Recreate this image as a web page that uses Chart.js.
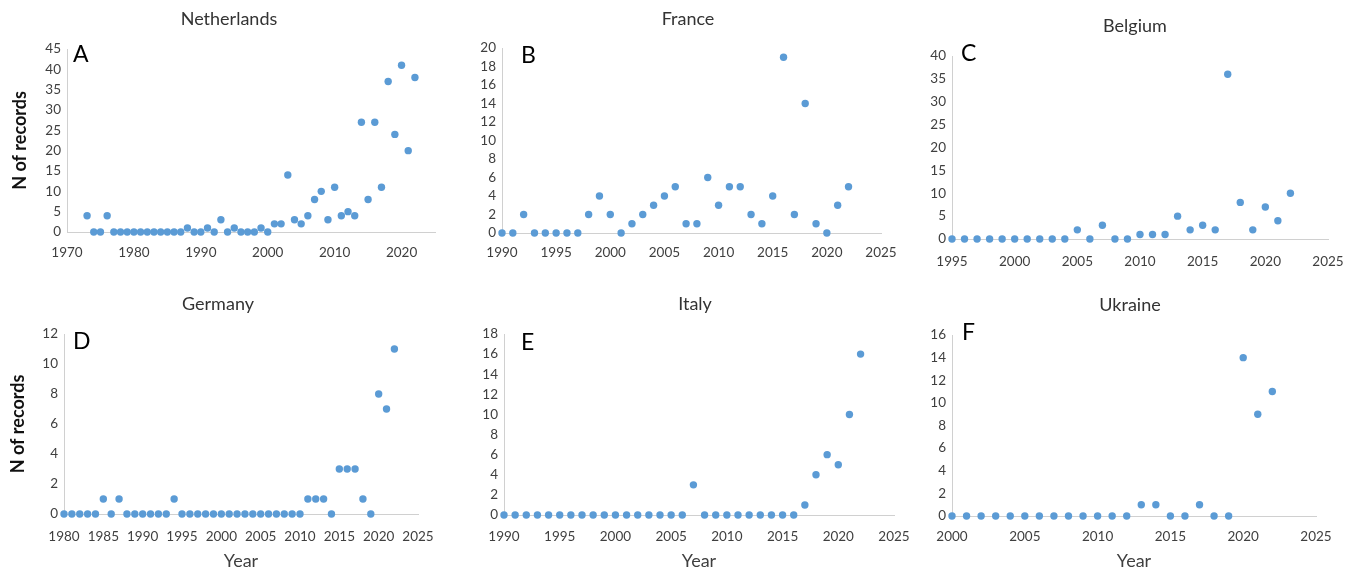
<!DOCTYPE html>
<html>
<head>
<meta charset="utf-8">
<title>Records per year</title>
<script src="https://cdn.jsdelivr.net/npm/chart.js@4.4.0/dist/chart.umd.min.js"></script>
<style>
  html, body { margin: 0; padding: 0; background: #fff; }
  body { width: 1354px; height: 570px; position: relative; overflow: hidden; }
  canvas { position: absolute; }
</style>
</head>
<body>
<canvas id="nl" style="left:0px;top:0px" width="450" height="280"></canvas>
<canvas id="fr" style="left:450px;top:0px" width="450" height="280"></canvas>
<canvas id="be" style="left:900px;top:0px" width="454" height="280"></canvas>
<canvas id="de" style="left:0px;top:290px" width="450" height="280"></canvas>
<canvas id="it" style="left:450px;top:290px" width="470" height="280"></canvas>
<canvas id="ua" style="left:900px;top:290px" width="454" height="280"></canvas>
<script>
// records per year
const nlYears = [1973, 1974, 1975, 1976, 1977, 1978, 1979, 1980, 1981, 1982, 1983, 1984, 1985, 1986, 1987,
                 1988, 1989, 1990, 1991, 1992, 1993, 1994, 1995, 1996, 1997, 1998, 1999, 2000,
                 2001, 2002, 2003, 2004, 2005, 2006, 2007, 2008, 2009, 2010, 2011,
                 2012, 2013, 2014, 2015, 2016, 2017, 2018, 2019, 2020, 2021, 2022];
const nlRecords = [4, 0, 0, 4, 0, 0, 0, 0, 0, 0, 0, 0, 0, 0, 0,
                   1, 0, 0, 1, 0, 3, 0, 1, 0, 0, 0, 1, 0,
                   2, 2, 14, 3, 2, 4, 8, 10, 3, 11, 4,
                   5, 4, 27, 8, 27, 11, 37, 24, 41, 20, 38];

const frYears = [1990, 1991, 1992, 1993, 1994, 1995, 1996, 1997, 1998, 1999,
                 2000, 2001, 2002, 2003, 2004, 2005, 2006, 2007, 2008, 2009,
                 2010, 2011, 2012, 2013, 2014, 2015, 2016, 2017, 2018, 2019,
                 2020, 2021, 2022];
const frRecords = [0, 0, 2, 0, 0, 0, 0, 0, 2, 4,
                   2, 0, 1, 2, 3, 4, 5, 1, 1, 6,
                   3, 5, 5, 2, 1, 4, 19, 2, 14, 1,
                   0, 3, 5];

const beYears = [1995, 1996, 1997, 1998, 1999, 2000, 2001, 2002, 2003, 2004,
                 2005, 2006, 2007, 2008, 2009, 2010, 2011, 2012, 2013, 2014,
                 2015, 2016, 2017, 2018, 2019, 2020, 2021, 2022];
const beRecords = [0, 0, 0, 0, 0, 0, 0, 0, 0, 0,
                   2, 0, 3, 0, 0, 1, 1, 1, 5, 2,
                   3, 2, 36, 8, 2, 7, 4, 10];

const deYears = [1980, 1981, 1982, 1983, 1984, 1985, 1986, 1987, 1988, 1989,
                 1990, 1991, 1992, 1993, 1994, 1995, 1996, 1997, 1998, 1999,
                 2000, 2001, 2002, 2003, 2004, 2005, 2006, 2007, 2008, 2009,
                 2010, 2011, 2012, 2013, 2014, 2015, 2016, 2017, 2018, 2019,
                 2020, 2021, 2022];
const deRecords = [0, 0, 0, 0, 0, 1, 0, 1, 0, 0,
                   0, 0, 0, 0, 1, 0, 0, 0, 0, 0,
                   0, 0, 0, 0, 0, 0, 0, 0, 0, 0,
                   0, 1, 1, 1, 0, 3, 3, 3, 1, 0,
                   8, 7, 11];

const itYears = [1990, 1991, 1992, 1993, 1994, 1995, 1996, 1997, 1998, 1999,
                 2000, 2001, 2002, 2003, 2004, 2005, 2006, 2007, 2008, 2009,
                 2010, 2011, 2012, 2013, 2014, 2015, 2016, 2017, 2018, 2019,
                 2020, 2021, 2022];
const itRecords = [0, 0, 0, 0, 0, 0, 0, 0, 0, 0,
                   0, 0, 0, 0, 0, 0, 0, 3, 0, 0,
                   0, 0, 0, 0, 0, 0, 0, 1, 4, 6,
                   5, 10, 16];

const uaYears = [2000, 2001, 2002, 2003, 2004, 2005, 2006, 2007, 2008, 2009,
                 2010, 2011, 2012, 2013, 2014, 2015, 2016, 2017, 2018, 2019,
                 2020, 2021, 2022];
const uaRecords = [0, 0, 0, 0, 0, 0, 0, 0, 0, 0,
                   0, 0, 0, 1, 1, 0, 0, 1, 0, 0,
                   14, 9, 11];

const tickColor = '#3f3f3f';
const dotColor = '#5B9BD5';
const axisColor = '#d0d0d0';

// draws the country name and the panel letter
const panelText = {
    id: 'panelText',
    afterDraw(chart, args, opts) {
        const ctx = chart.ctx;
        ctx.save();
        ctx.textBaseline = 'middle';
        ctx.textAlign = 'center';
        ctx.fillStyle = '#333';
        ctx.font = '18px Lato';
        ctx.fillText(opts.title, opts.titleX, opts.titleY);
        ctx.textAlign = 'left';
        ctx.fillStyle = '#000';
        ctx.font = '23px Lato';
        ctx.fillText(opts.letter, opts.letterX, opts.letterY);
        ctx.restore();
    }
};

const panels = [
    { id: 'nl', title: 'Netherlands', letter: 'A', years: nlYears, records: nlRecords,
      xMin: 1970, xMax: 2025, xStep: 10, yMax: 45, yStep: 5,
      area: { l: 67, t: 49, r: 435, b: 232 }, xPad: 13, yTitle: true, xTitle: false,
      titleX: 229, titleY: 19, letterX: 73, letterY: 55 },
    { id: 'fr', title: 'France', letter: 'B', years: frYears, records: frRecords,
      xMin: 1990, xMax: 2025, xStep: 5, yMax: 20, yStep: 2,
      area: { l: 52, t: 48, r: 431, b: 233 }, xPad: 12, yTitle: false, xTitle: false,
      titleX: 238, titleY: 19, letterX: 71, letterY: 56 },
    { id: 'be', title: 'Belgium', letter: 'C', years: beYears, records: beRecords,
      xMin: 1995, xMax: 2025, xStep: 5, yMax: 40, yStep: 5,
      area: { l: 52, t: 56, r: 428, b: 239 }, xPad: 15, yTitle: false, xTitle: false,
      titleX: 235, titleY: 26, letterX: 61, letterY: 54 },
    { id: 'de', title: 'Germany', letter: 'D', years: deYears, records: deRecords,
      xMin: 1980, xMax: 2025, xStep: 5, yMax: 12, yStep: 2,
      area: { l: 64, t: 44, r: 418, b: 224 }, xPad: 15, yTitle: true, xTitle: true,
      titleX: 218, titleY: 14, letterX: 73, letterY: 52 },
    { id: 'it', title: 'Italy', letter: 'E', years: itYears, records: itRecords,
      xMin: 1990, xMax: 2025, xStep: 5, yMax: 18, yStep: 2,
      area: { l: 54, t: 44, r: 444, b: 225 }, xPad: 14, yTitle: false, xTitle: true,
      titleX: 245, titleY: 14, letterX: 71, letterY: 53 },
    { id: 'ua', title: 'Ukraine', letter: 'F', years: uaYears, records: uaRecords,
      xMin: 2000, xMax: 2025, xStep: 5, yMax: 16, yStep: 2,
      area: { l: 52, t: 45, r: 416, b: 226 }, xPad: 13, yTitle: false, xTitle: true,
      titleX: 230, titleY: 15, letterX: 62, letterY: 43 }
];

panels.forEach(p => {
    const canvas = document.getElementById(p.id);
    const w = canvas.width;
    const h = canvas.height;
    const tickFont = { family: 'Lato', size: 13.5 };

    new Chart(canvas, {
        type: 'scatter',
        data: {
            datasets: [{
                data: p.years.map((year, i) => ({ x: year, y: p.records[i] })),
                backgroundColor: dotColor,
                borderWidth: 0,
                pointRadius: 3.7,
                pointHoverRadius: 3.7,
                clip: false
            }]
        },
        options: {
            responsive: false,
            animation: false,
            events: [],
            layout: { padding: { top: p.area.t, right: w - p.area.r, bottom: 0, left: 0 } },
            plugins: {
                legend: { display: false },
                tooltip: { enabled: false },
                panelText: {
                    title: p.title, titleX: p.titleX, titleY: p.titleY,
                    letter: p.letter, letterX: p.letterX, letterY: p.letterY
                }
            },
            scales: {
                x: {
                    type: 'linear',
                    min: p.xMin,
                    max: p.xMax,
                    grid: { display: false, drawTicks: false },
                    border: { display: true, color: axisColor, width: 1 },
                    ticks: {
                        stepSize: p.xStep,
                        includeBounds: false,
                        autoSkip: false,
                        maxRotation: 0,
                        padding: p.xPad,
                        color: tickColor,
                        font: tickFont,
                        callback: v => String(v)
                    },
                    title: {
                        display: p.xTitle,
                        text: 'Year',
                        color: tickColor,
                        font: { family: 'Lato', size: 18, lineHeight: 1 },
                        padding: 0
                    },
                    afterFit(scale) {
                        scale.height = h - p.area.b;
                        scale.paddingLeft = 0;
                        scale.paddingRight = 0;
                    }
                },
                y: {
                    min: 0,
                    max: p.yMax,
                    grid: { display: false, drawTicks: false },
                    border: { display: true, color: axisColor, width: 1 },
                    ticks: {
                        stepSize: p.yStep,
                        autoSkip: false,
                        padding: 6,
                        color: tickColor,
                        font: tickFont,
                        callback: v => String(v)
                    },
                    title: {
                        display: p.yTitle,
                        text: 'N of records',
                        color: '#111',
                        font: { family: 'Lato', size: 18, weight: 'bold', lineHeight: 1.2 },
                        padding: { top: p.id === 'nl' ? 9 : 7, bottom: 0 }
                    },
                    afterFit(scale) {
                        scale.width = p.area.l;
                    }
                }
            }
        },
        plugins: [panelText]
    });
});
</script>
</body>
</html>
